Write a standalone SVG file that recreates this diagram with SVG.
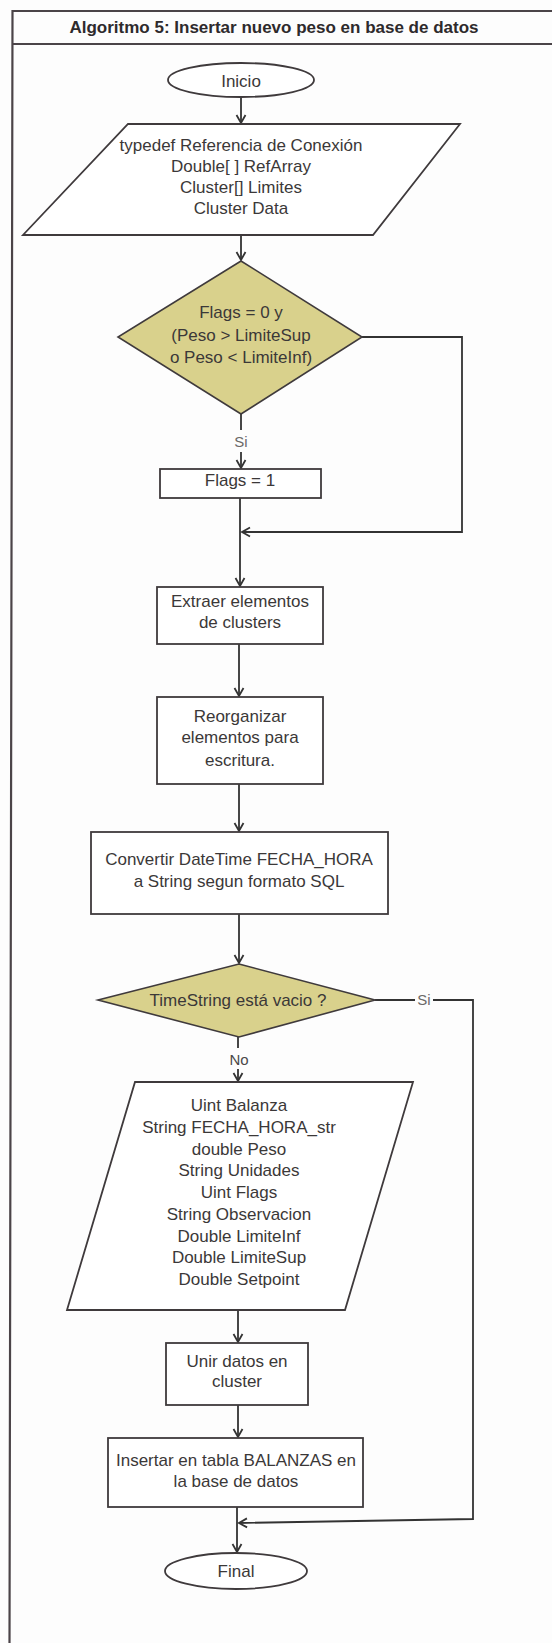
<svg xmlns="http://www.w3.org/2000/svg" width="552" height="1643" viewBox="0 0 552 1643">
  <style>
    text { font-family: "Liberation Sans", Arial, Helvetica, sans-serif; fill: #3b3838; text-anchor: middle; }
    .t { font-size: 17px; }
    .title { font-size: 17px; font-weight: bold; fill: #2e2a2c; }
    .lbl { font-size: 15px; fill: #6a6868; }
    .shape { fill: #ffffff; stroke: #3f3a3c; stroke-width: 1.8; }
    .dec { fill: #d9d18c; stroke: #3f3a3c; stroke-width: 1.6; }
    .frame { fill: none; stroke: #4b4448; stroke-width: 2.2; }
    .wire { fill: none; stroke: #333; stroke-width: 1.8; }
  </style>
  <defs>
    <marker id="arr" markerWidth="12" markerHeight="12" refX="10" refY="6" orient="auto" markerUnits="userSpaceOnUse">
      <path d="M2,1.5 L10,6 L2,10.5" fill="none" stroke="#333" stroke-width="1.8"/>
    </marker>
  </defs>

  <rect width="552" height="1643" fill="#fdfdfd"/>

  <!-- outer frame and title bar -->
  <g id="frame">
    <path class="frame" d="M552,11 L12.5,11 L9.5,1643"/>
    <line class="frame" x1="12" y1="44" x2="552" y2="44" stroke-width="1.8"/>
    <text class="title" x="274" y="33">Algoritmo 5: Insertar nuevo peso en base de datos</text>
  </g>

  <!-- connectors -->
  <g id="connectors">
    <line class="wire" x1="241" y1="97" x2="241" y2="123" marker-end="url(#arr)"/>
    <line class="wire" x1="241" y1="235" x2="241" y2="260" marker-end="url(#arr)"/>
    <line class="wire" x1="241" y1="414" x2="241" y2="430"/>
    <line class="wire" x1="241" y1="452" x2="241" y2="468" marker-end="url(#arr)"/>
    <path class="wire" d="M362,337 L462,337 L462,532 L242,532" marker-end="url(#arr)"/>
    <line class="wire" x1="240" y1="498" x2="240" y2="586" marker-end="url(#arr)"/>
    <line class="wire" x1="239" y1="644" x2="239" y2="696" marker-end="url(#arr)"/>
    <line class="wire" x1="239" y1="784" x2="239" y2="831" marker-end="url(#arr)"/>
    <line class="wire" x1="239" y1="914" x2="239" y2="963" marker-end="url(#arr)"/>
    <line class="wire" x1="238" y1="1037" x2="238" y2="1048"/>
    <line class="wire" x1="238" y1="1069" x2="238" y2="1081" marker-end="url(#arr)"/>
    <line class="wire" x1="375" y1="1000" x2="415" y2="1000"/>
    <path class="wire" d="M433,1000 L473,1000 L473,1519 L239,1523" marker-end="url(#arr)"/>
    <line class="wire" x1="238" y1="1310" x2="238" y2="1342" marker-end="url(#arr)"/>
    <line class="wire" x1="238" y1="1405" x2="238" y2="1437" marker-end="url(#arr)"/>
    <line class="wire" x1="237" y1="1507" x2="237" y2="1552" marker-end="url(#arr)"/>
    <text class="lbl" x="241" y="447">Si</text>
    <text class="lbl" x="424" y="1005">Si</text>
    <text class="lbl" x="239" y="1065" fill="#4a4848" style="fill:#4a4848">No</text>
  </g>

  <g id="inicio">
    <ellipse class="shape" cx="241" cy="80" rx="73" ry="17"/>
    <text class="t" x="241" y="87">Inicio</text>
  </g>

  <g id="declaraciones">
    <polygon class="shape" points="128,124 460,124 373,235 23,235"/>
    <text class="t" x="241" y="151">typedef Referencia de Conexión</text>
    <text class="t" x="241" y="172">Double[ ] RefArray</text>
    <text class="t" x="241" y="193">Cluster[] Limites</text>
    <text class="t" x="241" y="214">Cluster Data</text>
  </g>

  <g id="condicion-flags">
    <polygon class="dec" points="241,261 362,337 241,414 118,337"/>
    <text class="t" x="241" y="318">Flags = 0 y</text>
    <text class="t" x="241" y="341">(Peso &gt; LimiteSup</text>
    <text class="t" x="241" y="363">o Peso &lt; LimiteInf)</text>
  </g>

  <g id="flags-1">
    <rect class="shape" x="160" y="469" width="161" height="29"/>
    <text class="t" x="240" y="486">Flags = 1</text>
  </g>

  <g id="extraer">
    <rect class="shape" x="157" y="587" width="166" height="57"/>
    <text class="t" x="240" y="607">Extraer elementos</text>
    <text class="t" x="240" y="628">de clusters</text>
  </g>

  <g id="reorganizar">
    <rect class="shape" x="157" y="697" width="166" height="87"/>
    <text class="t" x="240" y="722">Reorganizar</text>
    <text class="t" x="240" y="743">elementos para</text>
    <text class="t" x="240" y="766">escritura.</text>
  </g>

  <g id="convertir">
    <rect class="shape" x="91" y="832" width="297" height="82"/>
    <text class="t" x="239" y="865">Convertir DateTime FECHA_HORA</text>
    <text class="t" x="239" y="887">a String segun formato SQL</text>
  </g>

  <g id="condicion-vacio">
    <polygon class="dec" points="239,964 375,1000 239,1037 98,1000"/>
    <text class="t" x="238" y="1006">TimeString está vacio ?</text>
  </g>

  <g id="datos">
    <polygon class="shape" points="135,1082 413,1082 345,1310 67,1310"/>
    <text class="t" x="239" y="1111">Uint Balanza</text>
    <text class="t" x="239" y="1133">String FECHA_HORA_str</text>
    <text class="t" x="239" y="1155">double Peso</text>
    <text class="t" x="239" y="1176">String Unidades</text>
    <text class="t" x="239" y="1198">Uint Flags</text>
    <text class="t" x="239" y="1220">String Observacion</text>
    <text class="t" x="239" y="1242">Double LimiteInf</text>
    <text class="t" x="239" y="1263">Double LimiteSup</text>
    <text class="t" x="239" y="1285">Double Setpoint</text>
  </g>

  <g id="unir">
    <rect class="shape" x="166" y="1343" width="142" height="62"/>
    <text class="t" x="237" y="1367">Unir datos en</text>
    <text class="t" x="237" y="1387">cluster</text>
  </g>

  <g id="insertar">
    <rect class="shape" x="108" y="1438" width="255" height="69"/>
    <text class="t" x="236" y="1466">Insertar en tabla BALANZAS en</text>
    <text class="t" x="236" y="1487">la base de datos</text>
  </g>

  <g id="final">
    <ellipse class="shape" cx="236" cy="1571" rx="71" ry="18"/>
    <text class="t" x="236" y="1577">Final</text>
  </g>
</svg>
